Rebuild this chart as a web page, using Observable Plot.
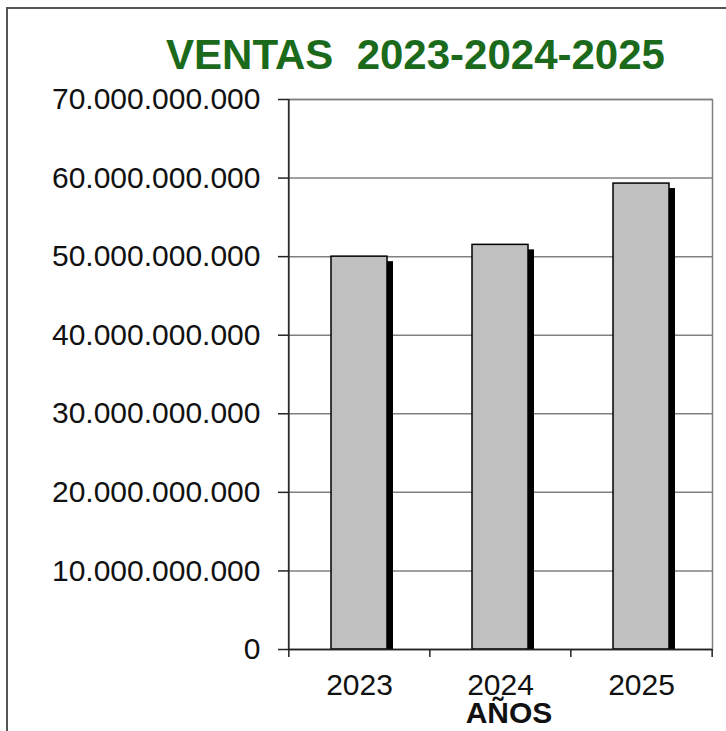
<!DOCTYPE html>
<html>
<head>
<meta charset="utf-8">
<script src="https://cdn.jsdelivr.net/npm/d3@7"></script>
<script src="https://cdn.jsdelivr.net/npm/@observablehq/plot@0.6"></script>
<style>
  html, body { margin: 0; padding: 0; background: #fff; }
  #wrap { position: relative; width: 726px; height: 731px; overflow: hidden; font-family: "Liberation Sans", Arial, sans-serif; }
  #border { position: absolute; left: 6px; top: 7px; width: 730px; height: 740px; border-left: 2px solid #555; border-top: 2px solid #555; }
  #title { position: absolute; left: 415.5px; top: 34px; transform: translateX(-50%); white-space: pre; font-size: 42px; line-height: 42px; font-weight: bold; color: #1b6a1b; }
  #xlabel { position: absolute; left: 509px; top: 702px; transform: translateX(-50%); font-size: 30px; line-height: 22px; font-weight: bold; color: #111; }
  #chart { position: absolute; left: 0; top: 0; }
</style>
</head>
<body>
<div id="wrap">
  <div id="border"></div>
  <div id="chart"></div>
  <div id="title">VENTAS  2023-2024-2025</div>
  <div id="xlabel">AÑOS</div>
</div>
<script>
const years = ["2023", "2024", "2025"];
const ventas = [50.0e9, 51.5e9, 59.3e9];
const yTicks = [0, 10e9, 20e9, 30e9, 40e9, 50e9, 60e9, 70e9];

const data = years.map((year, i) => ({year, ventas: ventas[i]}));
const locale = d3.formatLocale({decimal: ",", thousands: ".", grouping: [3], currency: ["$", ""]});
const fmt = locale.format(",");

const W = 726, H = 731, mL = 288, mR = 14, mT = 99, mB = 82;
const step = (W - mL - mR) / years.length;

const chart = Plot.plot({
  width: W,
  height: H,
  marginTop: mT,
  marginBottom: mB,
  marginLeft: mL,
  marginRight: mR,
  style: {fontFamily: "'Liberation Sans', Arial, sans-serif", fontSize: "30px", background: "transparent", color: "#111"},
  x: {domain: years, paddingInner: 0.6, paddingOuter: 0.3, label: null},
  y: {domain: [0, 70e9], label: null},
  marks: [
    Plot.gridY(yTicks, {stroke: "#808080", strokeOpacity: 1, strokeWidth: 1.5}),
    Plot.frame({stroke: "#808080", strokeWidth: 1.5}),
    Plot.barY(data, {x: "year", y: "ventas", fill: "black", dx: 6, dy: 5, insetBottom: 5}),
    Plot.barY(data, {x: "year", y: "ventas", fill: "#c0c0c0", stroke: "black", strokeWidth: 1.5}),
    Plot.ruleX(years, {x: d => d, dx: -step / 2, y: 0, insetBottom: -8, stroke: "#222", strokeWidth: 1.5}),
    Plot.ruleX([years[years.length - 1]], {x: d => d, dx: step / 2, y: 0, insetBottom: -8, stroke: "#222", strokeWidth: 1.5}),
    Plot.ruleX(years.slice(0, 1), {x: d => d, dx: -step / 2, y1: 0, y2: 70e9, stroke: "#222", strokeWidth: 1.5}),
    Plot.ruleY([0], {stroke: "#222", strokeWidth: 1.5}),
    Plot.axisY(yTicks, {tickSize: 10, tickPadding: 18, tickFormat: fmt, fontSize: 30, stroke: "#222", strokeWidth: 1.5, label: null}),
    Plot.axisX({tickSize: 0, tickPadding: 24, fontSize: 30, label: null})
  ]
});
document.getElementById("chart").appendChild(chart);
</script>
</body>
</html>
